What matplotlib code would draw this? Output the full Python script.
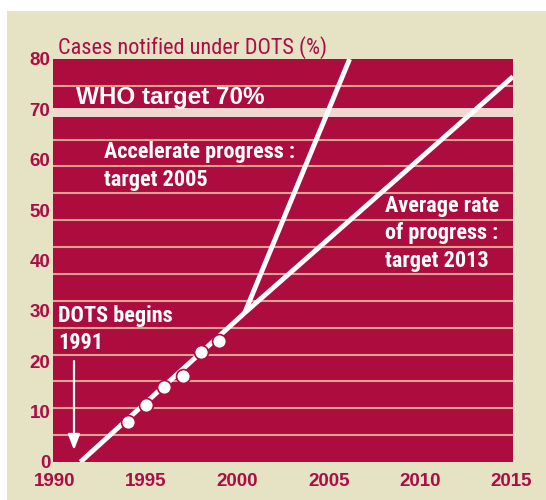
import matplotlib
matplotlib.use("Agg")
import matplotlib.pyplot as plt
from matplotlib.patches import Rectangle

# ---- data ----
years = [1994, 1995, 1996, 1997, 1998, 1999]
notified = [7.9, 11.3, 14.9, 17.1, 21.9, 24.1]
trend_years = [1991.4, 2000.4]
trend_values = [0.0, 29.6]
accel_years = [2000.4, 2006.15]
accel_values = [29.6, 80.0]
avg_years = [2000.4, 2015.1]
avg_values = [29.6, 76.5]
xticks = [1990, 1995, 2000, 2005, 2010, 2015]
yticks = [0, 10, 20, 30, 40, 50, 60, 70, 80]

W, H = 546, 500
CRIMSON = "#ad0c3e"
CREAM = "#e6e2c4"
GRID = "#dba392"
BAND = "#f2d7cf"
TXT = "#ab0d45"
COND = ["Roboto Condensed", "DejaVu Sans"]

plt.rcParams["font.family"] = ["Liberation Sans", "DejaVu Sans"]
plt.rcParams["font.weight"] = "bold"
plt.rcParams["font.size"] = 13.5
plt.rcParams["xtick.color"] = TXT
plt.rcParams["ytick.color"] = TXT

fig = plt.figure(figsize=(W / 100, H / 100), dpi=100)
fig.patch.set_facecolor("white")
fig.patches.append(Rectangle((7 / W, 0), 1 - 7 / W, 1 - 11 / H, transform=fig.transFigure,
                             facecolor=CREAM, edgecolor="none", zorder=-5))

def px(x, y):
    return x / W, 1 - y / H

l, r, t, b = 53, 513, 59, 462
ax = fig.add_axes([l / W, 1 - b / H, (r - l) / W, (b - t) / H])
ax.set_zorder(2)
ax.set_facecolor(CRIMSON)
ax.set_xlim(1989.9, 2015.1)
ax.set_ylim(0, 80)
for s in ax.spines.values():
    s.set_visible(False)

# horizontal stripes
for k in range(1, 15):
    v = 80 * k / 15
    if k == 13:
        ax.axhspan(v - 0.85, v + 0.85, color=BAND, lw=0, zorder=1)
    else:
        ax.axhline(v, color=GRID, lw=1.5, zorder=1)

ax.set_xticks(xticks)
ax.set_yticks(yticks)
ax.set_xticklabels([str(v) for v in xticks], fontweight="bold")
ax.set_yticklabels([str(v) for v in yticks], fontweight="bold")
ax.tick_params(length=0, labelcolor=TXT)
ax.tick_params(axis="x", pad=8)
ax.tick_params(axis="y", pad=2)

# lines
ax.plot(accel_years, accel_values, color="white", lw=3.5, zorder=3, solid_capstyle="butt")
ax.plot(avg_years, avg_values, color="white", lw=3.5, zorder=3, solid_capstyle="butt")
ax.plot(trend_years, trend_values, color="white", lw=3.5, zorder=3, solid_capstyle="butt")
ax.plot(years, notified, "o", ms=10, mfc="white", mec=CRIMSON, mew=1.2, zorder=4)

# arrow
ax.annotate("", xy=(1991.05, 1.8), xytext=(1991.05, 20.6),
            arrowprops=dict(arrowstyle="-|>,head_length=0.7,head_width=0.27",
                            color="white", lw=1.6), zorder=5)

def ftext(x, y, s, **kw):
    t = fig.text(*px(x, y), s, va="baseline", ha="left", **kw)
    t.set_zorder(10)
    return t

ftext(58, 54, "Cases notified under DOTS (%)", color=TXT, fontsize=16, family=COND,
      weight="normal")
ftext(76, 104, "WHO target 70%", color="white", fontsize=17.5,
      family="Liberation Sans", weight="bold")
ftext(104, 158, "Accelerate progress :", color="white", fontsize=16, family=COND, weight="bold")
ftext(104, 186, "target 2005", color="white", fontsize=16, family=COND, weight="bold")
for i, line in enumerate(["Average rate", "of progress :", "target 2013"]):
    ftext(385, 212 + 27.5 * i, line, color="white", fontsize=16, family=COND, weight="bold")
ftext(58, 322, "DOTS begins", color="white", fontsize=16, family=COND, weight="bold")
ftext(58, 349, "1991", color="white", fontsize=16, family=COND, weight="bold")

fig.savefig("out.png", dpi=100, facecolor=fig.get_facecolor())
